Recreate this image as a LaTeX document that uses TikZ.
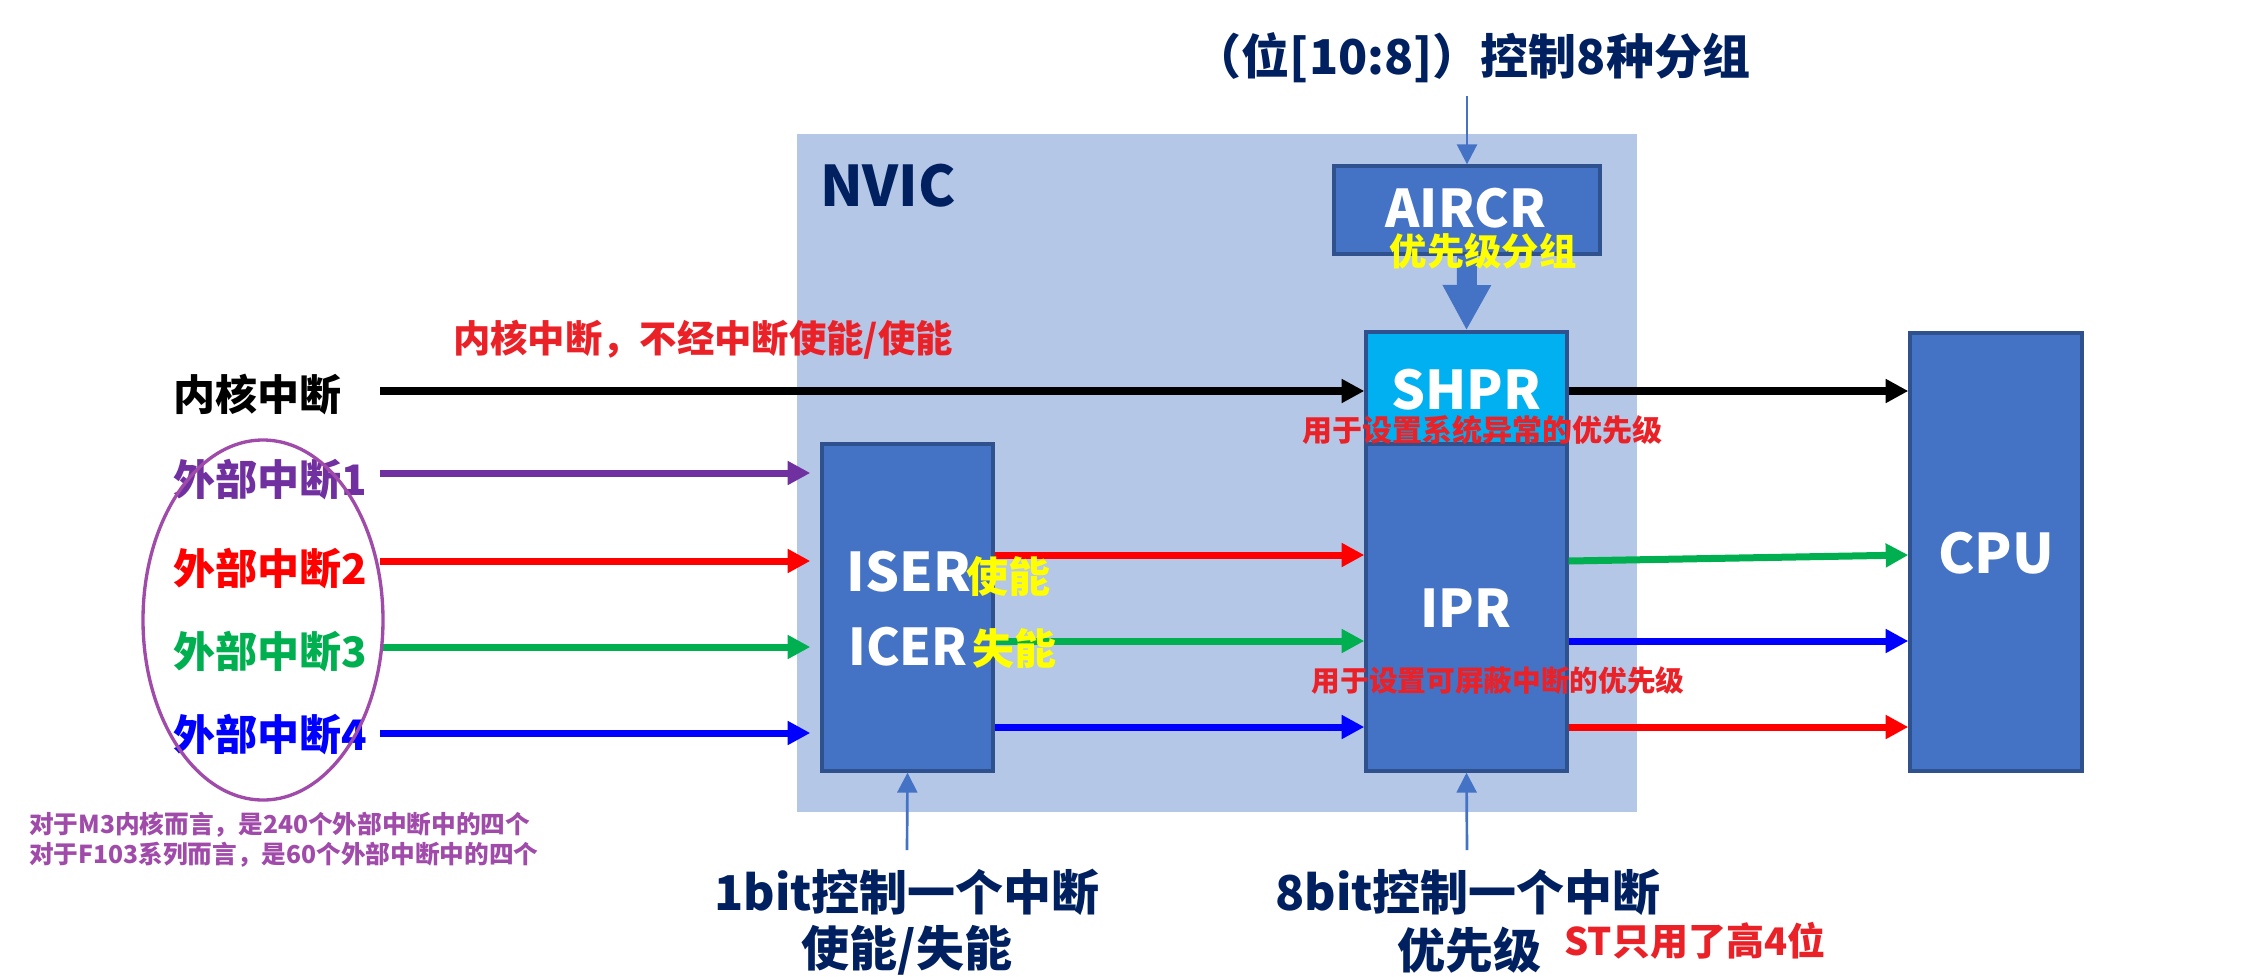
\documentclass[tikz,border=0pt]{standalone}
\usepackage{fontspec}
\setmainfont{Noto Sans CJK SC}
\usetikzlibrary{arrows.meta}
\definecolor{boxblue}{HTML}{4472C4}
\definecolor{boxedge}{HTML}{2F528F}
\definecolor{nvicbg}{HTML}{B4C7E7}
\definecolor{shprc}{HTML}{00B0F0}
\definecolor{navy}{HTML}{002060}
\definecolor{epurple}{HTML}{7030A0}
\definecolor{egreen}{HTML}{00B050}
\definecolor{eblue}{HTML}{0000FF}
\definecolor{ered}{HTML}{FF0000}
\definecolor{notered}{RGB}{235,33,40}
\definecolor{ellc}{HTML}{A04AAA}
\definecolor{hlyellow}{HTML}{FFFF00}
\newcommand\fsz[1]{\fontsize{#1}{#1}\selectfont}
\begin{document}
\begin{tikzpicture}[x=0.75pt,y=-0.75pt,
  regbox/.style={draw=boxedge,line width=2.5pt,fill=boxblue,inner sep=0pt},
  txt/.style={inner sep=0pt,font=\bfseries},
  big/.style={line width=5.25pt,-{Triangle[length=17pt,width=17pt]}},
  thinarr/.style={draw=boxblue,line width=2pt,-{Triangle[length=15pt,width=15pt]}}]
\useasboundingbox (0,0) rectangle (2246,976);
\fill[white] (0,0) rectangle (2246,976);
% NVIC background
\node[fill=nvicbg,inner sep=0pt,minimum width=630pt,minimum height=508.5pt] (nvic) at (1217,473) {};
\node[txt,text=navy,font=\bfseries\fsz{42pt}] (nviclbl) at (888,186) {NVIC};
% boxes
\node[regbox,minimum width=199.5pt,minimum height=66pt] (aircr) at (1467,210) {};
\node[regbox,fill=shprc,minimum width=150.75pt,minimum height=84pt] (shpr) at (1466.5,388) {};
\node[regbox,minimum width=150.75pt,minimum height=245.25pt] (ipr) at (1466.5,607.5) {};
\node[regbox,minimum width=128.25pt,minimum height=245.25pt] (iser) at (907.5,607.5) {};
\node[regbox,minimum width=129pt,minimum height=328.5pt] (cpu) at (1996,552) {};
% coordinates
\coordinate (s0) at (380,391);
\coordinate (s1) at (380,473);
\coordinate (s2) at (380,561);
\coordinate (s3) at (380,647);
\coordinate (s4) at (380,733);
\coordinate (ra) at (0,555);
\coordinate (rb) at (0,641);
\coordinate (rc) at (0,727);
\coordinate (gout) at (0,561);
\coordinate (t0) at (1467,96);
\coordinate (b1) at (907,850);
\coordinate (b2) at (1467,850);
% arrows from sources
\draw[big,black,line width=6pt] (s0) -- (s0 -| shpr.west);
\draw[big,epurple,shorten >=7.5pt] (s1) -- (s1 -| iser.west);
\draw[big,ered,shorten >=7.5pt] (s2) -- (s2 -| iser.west);
\draw[big,egreen,shorten >=7.5pt] (s3) -- (s3 -| iser.west);
\draw[big,eblue,shorten >=7.5pt] (s4) -- (s4 -| iser.west);
% ISER -> IPR
\draw[big,ered] (iser.east |- ra) -- (ipr.west |- ra);
\draw[big,egreen] (iser.east |- rb) -- (ipr.west |- rb);
\draw[big,eblue] (iser.east |- rc) -- (ipr.west |- rc);
% to CPU
\draw[big,black,line width=6pt] (shpr.east |- s0) -- (cpu.west |- s0);
\draw[big,egreen] (ipr.east |- gout) -- (cpu.west |- ra);
\draw[big,eblue] (ipr.east |- rb) -- (cpu.west |- rb);
\draw[big,ered] (ipr.east |- rc) -- (cpu.west |- rc);
% control arrows
\draw[thinarr] (t0) -- (aircr.north);
\draw[boxblue,line width=15pt,-{Triangle[length=34pt,width=34pt]}] (aircr.south) -- (shpr.north);
\draw[thinarr] (b1) -- (iser.south);
\draw[thinarr] (b2) -- (ipr.south);
% box texts
\node[txt,text=white,font=\bfseries\fsz{39pt}] (aircrl) at (1466,208) {AIRCR};
\node[txt,text=hlyellow,font=\bfseries\fsz{28pt}] (grp) at (1483,251) {优先级分组};
\node[txt,text=white,font=\bfseries\fsz{40pt}] (shprl) at (1466,390) {SHPR};
\node[txt,text=notered,font=\bfseries\fsz{22.5pt}] (shprn) at (1482,430) {用于设置系统异常的优先级};
\node[txt,text=white,font=\bfseries\fsz{39pt}] (iprl) at (1466,608) {IPR};
\node[txt,text=notered,font=\bfseries\fsz{21.5pt}] (iprn) at (1498,681) {用于设置可屏蔽中断的优先级};
\node[txt,text=white,font=\bfseries\fsz{40pt}] (iserl) at (909,572) {ISER};
\node[txt,text=white,font=\bfseries\fsz{38pt}] (icerl) at (908,647) {ICER};
\node[txt,text=hlyellow,font=\bfseries\fsz{31.5pt},anchor=west] (en) at (966,576) {使能};
\node[txt,text=hlyellow,font=\bfseries\fsz{31.5pt},anchor=west] (dis) at (972,648) {失能};
\node[txt,text=white,font=\bfseries\fsz{41pt}] (cpul) at (1996,553) {CPU};
% left labels
\node[txt,text=black,font=\bfseries\fsz{31.5pt},anchor=west] (k0) at (173,395) {内核中断};
\node[txt,text=epurple,font=\bfseries\fsz{31.5pt},anchor=west] (e1) at (173,480) {外部中断1};
\node[txt,text=ered,font=\bfseries\fsz{31.5pt},anchor=west] (e2) at (173,569) {外部中断2};
\node[txt,text=egreen,font=\bfseries\fsz{31.5pt},anchor=west] (e3) at (173,652) {外部中断3};
\node[txt,text=eblue,font=\bfseries\fsz{31.5pt},anchor=west] (e4) at (173,735) {外部中断4};
\draw[ellc,line width=2.5pt] (263,620) ellipse [x radius=90pt,y radius=135pt];
\node[txt,text=ellc,font=\bfseries\fsz{18.5pt},anchor=north west,align=left] (note) at (29,812)
  {对于M3内核而言，是240个外部中断中的四个\\[2.5pt]对于F103系列而言，是60个外部中断中的四个};
\node[txt,text=notered,font=\bfseries\fsz{28pt},anchor=west] (coren) at (453,340) {内核中断，不经中断使能/使能};
% top and bottom texts
\node[txt,text=navy,font=\bfseries\fsz{36pt}] (top) at (1472,58) {（位[10:8]）控制8种分组};
\node[txt,text=navy,font=\bfseries\fsz{36pt}] (bl1) at (907,892) {1bit控制一个中断};
\node[txt,text=navy,font=\bfseries\fsz{36pt}] (bl2) at (907,950) {使能/失能};
\node[txt,text=navy,font=\bfseries\fsz{36pt}] (br1) at (1468,892) {8bit控制一个中断};
\node[txt,text=navy,font=\bfseries\fsz{36pt}] (br2) at (1469,950) {优先级};
\node[txt,text=notered,font=\bfseries\fsz{28.5pt},anchor=west] (st) at (1564,941) {ST只用了高4位};
\end{tikzpicture}
\end{document}
